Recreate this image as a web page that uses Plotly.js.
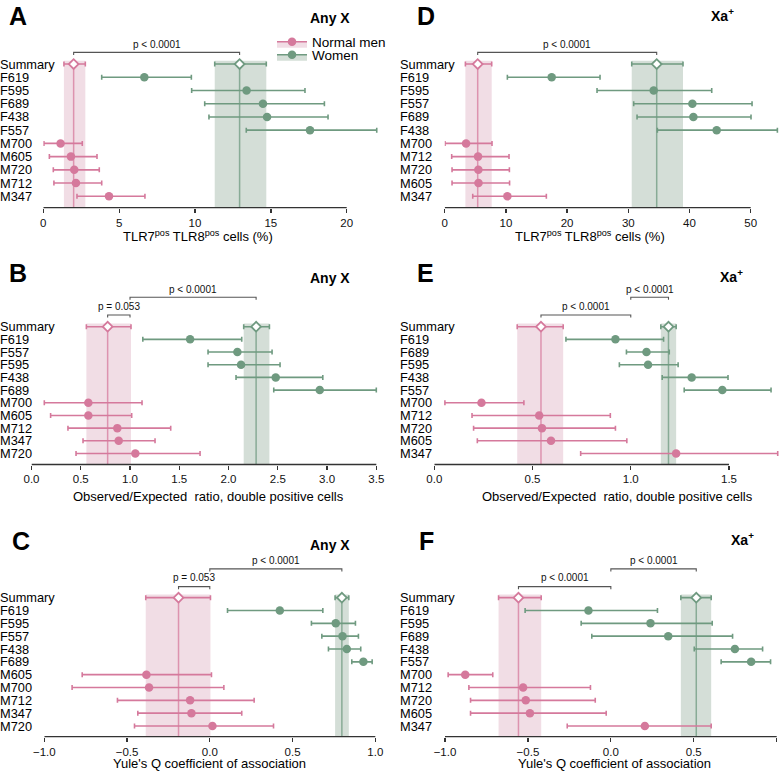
<!DOCTYPE html>
<html><head><meta charset="utf-8">
<script src="https://cdn.plot.ly/plotly-3.0.1.min.js"></script>
<style>html,body{margin:0;padding:0;background:#fff}#chart{width:784px;height:772px}</style>
</head><body><div id="chart"></div>
<script>
// ---------------- DATA ----------------
// Panel A: Any X, TLR7pos TLR8pos cells (%)
const womenNamesA = ['F619','F595','F689','F438','F557'];
const womenA   = [6.66, 13.4, 14.48, 14.75, 17.58];
const womenLoA = [3.85, 9.78, 10.64, 10.92, 13.38];
const womenHiA = [9.76, 17.25, 18.53, 18.77, 21.98];
const menNamesA = ['M700','M605','M720','M712','M347'];
const menA   = [1.14, 1.82, 2.04, 2.15, 4.33];
const menLoA = [0.04, 0.40, 0.66, 0.70, 2.22];
const menHiA = [2.57, 3.54, 3.69, 3.85, 6.70];
const summaryA   = [2.0, 12.94];   // [men, women]
const summaryLoA = [1.36, 11.3];
const summaryHiA = [2.77, 14.7];
const bracketFromA = ['men'];
const bracketToA   = ['women'];
const bracketTextA = ['p < 0.0001'];

// Panel B: Any X, Observed/Expected ratio
const womenNamesB = ['F619','F557','F595','F438','F689'];
const womenB   = [1.61, 2.09, 2.127, 2.479, 2.926];
const womenLoB = [1.13, 1.792, 1.792, 2.076, 2.459];
const womenHiB = [2.134, 2.442, 2.523, 2.957, 3.5];
const menNamesB = ['M700','M605','M712','M347','M720'];
const menB   = [0.577, 0.577, 0.871, 0.885, 1.054];
const menLoB = [0.13, 0.194, 0.37, 0.523, 0.452];
const menHiB = [1.122, 1.017, 1.413, 1.254, 1.711];
const summaryB   = [0.773, 2.28];
const summaryLoB = [0.557, 2.154];
const summaryHiB = [1.01, 2.415];
const bracketFromB = ['men', 1];
const bracketToB   = [1, 'women'];
const bracketTextB = ['p = 0.053', 'p < 0.0001'];

// Panel C: Any X, Yule's Q
const womenNamesC = ['F619','F595','F557','F438','F689'];
const womenC   = [0.423, 0.761, 0.802, 0.828, 0.928];
const womenLoC = [0.107, 0.614, 0.677, 0.717, 0.858];
const womenHiC = [0.683, 0.88, 0.898, 0.912, 0.981];
const menNamesC = ['M605','M700','M712','M347','M720'];
const menC   = [-0.383, -0.367, -0.119, -0.111, 0.016];
const menLoC = [-0.771, -0.832, -0.558, -0.435, -0.455];
const menHiC = [0.01, 0.085, 0.268, 0.193, 0.385];
const summaryC   = [-0.189, 0.798];
const summaryLoC = [-0.387, 0.757];
const summaryHiC = [0.004, 0.84];
const bracketFromC = ['men', 0];
const bracketToC   = [0, 'women'];
const bracketTextC = ['p = 0.053', 'p < 0.0001'];

// Panel D: Xa+, TLR7pos TLR8pos cells (%)
const womenNamesD = ['F619','F595','F557','F689','F438'];
const womenD   = [17.48, 34.15, 40.47, 40.63, 44.44];
const womenLoD = [10.24, 24.89, 30.88, 31.43, 34.75];
const womenHiD = [25.38, 43.63, 50.22, 50.05, 54.36];
const menNamesD = ['M700','M712','M720','M605','M347'];
const menD   = [3.49, 5.45, 5.5, 5.52, 10.24];
const menLoD = [0.05, 1.14, 1.2, 1.2, 4.58];
const menHiD = [7.73, 10.51, 10.57, 10.6, 16.61];
const summaryD   = [5.39, 34.64];
const summaryLoD = [3.38, 30.56];
const summaryHiD = [7.68, 38.94];
const bracketFromD = ['men'];
const bracketToD   = ['women'];
const bracketTextD = ['p < 0.0001'];

// Panel E: Xa+, Observed/Expected ratio
const womenNamesE = ['F619','F689','F595','F438','F557'];
const womenE   = [0.922, 1.08, 1.088, 1.31, 1.466];
const womenLoE = [0.67, 0.978, 0.942, 1.16, 1.272];
const womenHiE = [1.167, 1.196, 1.241, 1.495, 1.714];
const menNamesE = ['M700','M712','M720','M605','M347'];
const menE   = [0.24, 0.534, 0.548, 0.594, 1.231];
const menLoE = [0.054, 0.192, 0.2, 0.219, 0.745];
const menHiE = [0.456, 0.896, 0.922, 0.98, 1.748];
const summaryE   = [0.543, 1.192];
const summaryLoE = [0.422, 1.153];
const summaryHiE = [0.656, 1.231];
const bracketFromE = ['men', 1];
const bracketToE   = [1, 'women'];
const bracketTextE = ['p < 0.0001', 'p < 0.0001'];

// Panel F: Xa+, Yule's Q
const womenNamesF = ['F619','F595','F689','F438','F557'];
const womenF   = [-0.135, 0.239, 0.346, 0.748, 0.846];
const womenLoF = [-0.517, -0.179, -0.115, 0.503, 0.665];
const womenHiF = [0.281, 0.611, 0.734, 0.915, 0.963];
const menNamesF = ['M700','M712','M720','M605','M347'];
const menF   = [-0.878, -0.529, -0.513, -0.488, 0.205];
const menLoF = [-0.981, -0.856, -0.846, -0.846, -0.263];
const menHiF = [-0.712, -0.123, -0.094, -0.028, 0.605];
const summaryF   = [-0.557, 0.515];
const summaryLoF = [-0.677, 0.422];
const summaryHiF = [-0.42, 0.605];
const bracketFromF = ['men', 0];
const bracketToF   = [0, 'women'];
const bracketTextF = ['p < 0.0001', 'p < 0.0001'];

const groupNames = ['Normal men', 'Women'];
const titleTLR = 'TLR7<sup>pos</sup> TLR8<sup>pos</sup> cells (%)';
const titleOE  = 'Observed/Expected  ratio, double positive cells';
const titleQ   = "Yule's Q coefficient of association";

// ---------------- LAYOUT / STYLE ----------------
const W = 784, H = 772;
const px2x = p => p / W;
const px2y = p => 1 - p / H;
const PINK = '#D5799C', GREEN = '#6F9A80';
const PINK_BAND = 'rgba(205,130,160,0.27)', GREEN_BAND = 'rgba(111,145,122,0.30)';
const PINK_LINE = 'rgba(213,121,156,0.75)', GREEN_LINE = 'rgba(111,154,128,0.75)';
const FONT = 'Liberation Sans, Arial, Helvetica, sans-serif';

// dom: [px of axis start, px of axis end, top px, bottom (axis) px]
const panels = [
  {letter:'A', sub:'Any X', wn:womenNamesA, w:womenA, wl:womenLoA, wh:womenHiA, mn:menNamesA, m:menA, ml:menLoA, mh:menHiA,
   s:summaryA, sl:summaryLoA, sh:summaryHiA, bf:bracketFromA, bt:bracketToA, btx:bracketTextA, title:titleTLR,
   xr:[0,20], dtick:5, fmt:'d', dom:[43.3,346.7,27,207.7], yr:[0.138,13.8], brY:[11.88], brT:[12.51],
   labX:0, let:[9.3,16], subp:[309,17.7], tpos:[197.5,236]},
  {letter:'B', sub:'Any X', wn:womenNamesB, w:womenB, wl:womenLoB, wh:womenHiB, mn:menNamesB, m:menB, ml:menLoB, mh:menHiB,
   s:summaryB, sl:summaryLoB, sh:summaryHiB, bf:bracketFromB, bt:bracketToB, btx:bracketTextB, title:titleOE,
   xr:[0,3.5], dtick:0.5, fmt:'.1f', dom:[31.5,376.3,286.1,464.5], yr:[0.132,14.2], brY:[11.92,13.32], brT:[12.63,13.97],
   labX:0, let:[9.3,273], subp:[309,278], tpos:[208.5,496.5]},
  {letter:'C', sub:'Any X', wn:womenNamesC, w:womenC, wl:womenLoC, wh:womenHiC, mn:menNamesC, m:menC, ml:menLoC, mh:menHiC,
   s:summaryC, sl:summaryLoC, sh:summaryHiC, bf:bracketFromC, bt:bracketToC, btx:bracketTextC, title:titleQ,
   xr:[-1,1], dtick:0.5, fmt:'.1f', dom:[44.3,375.3,556.6,736.7], yr:[0.166,14.2], brY:[11.86,13.24], brT:[12.54,13.88],
   labX:0, let:[11.7,540.5], subp:[309,545], tpos:[209.5,763]},
  {letter:'D', sub:'Xa<sup>+</sup>', wn:womenNamesD, w:womenD, wl:womenLoD, wh:womenHiD, mn:menNamesD, m:menD, ml:menLoD, mh:menHiD,
   s:summaryD, sl:summaryLoD, sh:summaryHiD, bf:bracketFromD, bt:bracketToD, btx:bracketTextD, title:titleTLR,
   xr:[0,50], dtick:10, fmt:'d', dom:[444.7,750.7,27,207.7], yr:[0.138,13.8], brY:[11.88], brT:[12.51],
   labX:400, let:[417,16], subp:[710,15], tpos:[589.5,236]},
  {letter:'E', sub:'Xa<sup>+</sup>', wn:womenNamesE, w:womenE, wl:womenLoE, wh:womenHiE, mn:menNamesE, m:menE, ml:menLoE, mh:menHiE,
   s:summaryE, sl:summaryLoE, sh:summaryHiE, bf:bracketFromE, bt:bracketToE, btx:bracketTextE, title:titleOE,
   xr:[0,1.5], dtick:0.5, fmt:'.1f', dom:[434.3,729,286.1,464.5], yr:[0.132,14.2], brY:[11.92,13.32], brT:[12.63,13.97],
   labX:400, let:[417,273], subp:[719,276], tpos:[617.5,496.5]},
  {letter:'F', sub:'Xa<sup>+</sup>', wn:womenNamesF, w:womenF, wl:womenLoF, wh:womenHiF, mn:menNamesF, m:menF, ml:menLoF, mh:menHiF,
   s:summaryF, sl:summaryLoF, sh:summaryHiF, bf:bracketFromF, bt:bracketToF, btx:bracketTextF, title:titleQ,
   xr:[-1,1], dtick:0.5, fmt:'.1f', dom:[445,776.7,556.6,736.7], yr:[0.166,14.2], brY:[11.86,13.24], brT:[12.54,13.88],
   labX:400, let:[419,540.5], subp:[730,539], tpos:[614,763]}
];

const traces = [], shapes = [], annotations = [];
const layout = {
  width: W, height: H, margin: {l:0, r:0, t:0, b:0},
  paper_bgcolor: '#fff', plot_bgcolor: 'rgba(0,0,0,0)',
  font: {family: FONT, color: '#000'},
  showlegend: true, hovermode: false
};

panels.forEach((p, i) => {
  const k = i + 1, xa = 'x' + k, ya = 'y' + k;
  const xn = k === 1 ? 'xaxis' : 'xaxis' + k, yn = k === 1 ? 'yaxis' : 'yaxis' + k;
  const labels = ['Summary'].concat(p.wn, p.mn);
  const n = labels.length;
  const yOf = name => n - labels.indexOf(name);
  const ySum = yOf('Summary');

  // extend the plotting range so error bars running past the last tick stay visible
  const span = p.xr[1] - p.xr[0];
  const pxPerUnit = (p.dom[1] - p.dom[0]) / span;
  const maxHi = Math.max(...p.wh, ...p.mh, ...p.sh);
  const xEnd = Math.max(p.xr[1], maxHi) + span * 0.012;
  const domEnd = Math.min(W, p.dom[0] + (xEnd - p.xr[0]) * pxPerUnit);
  const xEndFit = p.xr[0] + (domEnd - p.dom[0]) / pxPerUnit;

  layout[xn] = {
    domain: [px2x(p.dom[0]), px2x(domEnd)], range: [p.xr[0], xEndFit], anchor: ya,
    showline: false, ticks: 'outside', ticklen: 4, tickwidth: 1.3, tickcolor: '#333',
    showgrid: false, zeroline: false, tick0: 0, dtick: p.dtick, tickformat: p.fmt,
    tickfont: {size: 11.5, color: '#111'}, fixedrange: true
  };
  layout[yn] = {
    domain: [px2y(p.dom[3]), px2y(p.dom[2])], range: p.yr, anchor: xa,
    visible: false, fixedrange: true
  };

  // axis line only over the tick range
  shapes.push({type: 'line', xref: xa, yref: 'paper', x0: p.xr[0], x1: p.xr[1],
    y0: px2y(p.dom[3]), y1: px2y(p.dom[3]), line: {color: '#333', width: 1.3}, layer: 'above'});

  const mk = (xs, lo, hi, ys, color, symbol) => ({
    type: 'scatter', mode: 'markers', x: xs, y: ys, xaxis: xa, yaxis: ya,
    cliponaxis: false, showlegend: false,
    marker: symbol === 'diamond'
      ? {symbol: 'diamond', size: 7.5, color: '#fff', line: {color: color, width: 1.8}}
      : {symbol: 'circle', size: 8.5, color: color, line: {width: 0}},
    error_x: {type: 'data', symmetric: false,
      array: xs.map((v, j) => hi[j] - v), arrayminus: xs.map((v, j) => v - lo[j]),
      color: color, thickness: 1.6, width: 2.5}
  });

  // summary CI bands + mean lines
  [[0, PINK_BAND], [1, GREEN_BAND]].forEach(([g, band]) => {
    shapes.push({type: 'rect', xref: xa, yref: ya, x0: p.sl[g], x1: p.sh[g], y0: p.yr[0], y1: ySum + 0.25,
      fillcolor: band, line: {width: 0}, layer: 'below'});
  });
  [[0, PINK_LINE], [1, GREEN_LINE]].forEach(([g, line]) => {
    shapes.push({type: 'line', xref: xa, yref: ya, x0: p.s[g], x1: p.s[g], y0: p.yr[0], y1: ySum,
      line: {color: line, width: 1.5}, layer: 'below'});
  });

  traces.push(mk(p.w, p.wl, p.wh, p.wn.map(yOf), GREEN, 'circle'));
  traces.push(mk(p.m, p.ml, p.mh, p.mn.map(yOf), PINK, 'circle'));
  traces.push(mk([p.s[0]], [p.sl[0]], [p.sh[0]], [ySum], PINK, 'diamond'));
  traces.push(mk([p.s[1]], [p.sl[1]], [p.sh[1]], [ySum], GREEN, 'diamond'));

  // significance brackets
  const resolve = v => v === 'men' ? p.s[0] : (v === 'women' ? p.s[1] : v);
  p.btx.forEach((txt, j) => {
    const a = resolve(p.bf[j]), b = resolve(p.bt[j]);
    const yb = p.brY[j], yt = yb - 0.2;
    shapes.push({type: 'path', xref: xa, yref: ya,
      path: `M${a},${yt} L${a},${yb} L${b},${yb} L${b},${yt}`,
      line: {color: '#555', width: 1.1}, layer: 'above'});
    annotations.push({xref: xa, yref: ya, x: (a + b) / 2, y: p.brT[j], text: txt, showarrow: false,
      xanchor: 'center', yanchor: 'middle', font: {size: 10, color: '#111'}});
  });

  // row labels
  labels.forEach(l => {
    annotations.push({xref: 'paper', yref: ya, x: px2x(p.labX), y: yOf(l), text: l, showarrow: false,
      xanchor: 'left', yanchor: 'middle', xshift: -1, borderpad: 0, font: {size: 12.8, color: '#000'}});
  });

  // axis title
  annotations.push({xref: 'paper', yref: 'paper', x: px2x(p.tpos[0]), y: px2y(p.tpos[1]), text: p.title,
    showarrow: false, xanchor: 'center', yanchor: 'middle', font: {size: 13, color: '#000'}});

  // panel letter + subtitle
  annotations.push({xref: 'paper', yref: 'paper', x: px2x(p.let[0]), y: px2y(p.let[1]), text: '<b>' + p.letter + '</b>',
    showarrow: false, xanchor: 'left', yanchor: 'middle', xshift: -2, font: {size: 25, color: '#000'}});
  annotations.push({xref: 'paper', yref: 'paper', x: px2x(p.subp[0]), y: px2y(p.subp[1]), text: '<b>' + p.sub + '</b>',
    showarrow: false, xanchor: 'left', yanchor: 'middle', xshift: -1, font: {size: 14, color: '#000'}});
});

// legend entries (panel A): line + point over a light band patch
[[groupNames[0], PINK, PINK_BAND, 'legend'], [groupNames[1], GREEN, GREEN_BAND, 'legend2']].forEach(([nm, c, band, lg]) => {
  traces.push({type: 'scatter', mode: 'lines+markers', x: [null], y: [null], xaxis: 'x', yaxis: 'y',
    name: nm, legend: lg, fill: 'toself', fillcolor: band,
    line: {color: c, width: 1.6}, marker: {color: c, size: 8.5}});
});
const legBase = {xanchor: 'left', yanchor: 'middle', bgcolor: 'rgba(0,0,0,0)', borderwidth: 0,
  font: {size: 13.5, color: '#000'}, itemclick: false, itemdoubleclick: false};
layout.legend  = Object.assign({x: px2x(272), y: px2y(42)}, legBase);
layout.legend2 = Object.assign({x: px2x(272), y: px2y(55)}, legBase);

layout.shapes = shapes;
layout.annotations = annotations;

Plotly.newPlot('chart', traces, layout, {staticPlot: true, displayModeBar: false});
</script></body></html>
